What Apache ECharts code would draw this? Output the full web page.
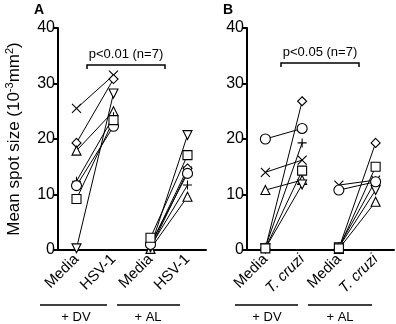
<!DOCTYPE html>
<html>
<head>
<meta charset="utf-8">
<script src="https://cdn.jsdelivr.net/npm/echarts@6/dist/echarts.min.js"></script>
<style>
  html, body { margin: 0; padding: 0; background: #fff; }
  #chart { width: 396px; height: 324px; }
</style>
</head>
<body>
<div id="chart"></div>
<script>
// marker order: x, diamond, triangle, down-triangle, plus, circle, square
const shapes = ['cross', 'diamond', 'triangle', 'dtriangle', 'plus', 'circle', 'rect'];

const catsA = ['Media', 'HSV-1', 'Media', 'HSV-1'];
const catsB = ['Media', 'T. cruzi', 'Media', 'T. cruzi'];
const groupLabels = ['+ DV', '+ AL'];
const yTicks = [0, 10, 20, 30, 40];

// panel A
const aDvMedia = [25.5, 19.3, 17.9, 0.3, 12.4, 11.6, 9.2];
const aDvHsv   = [31.5, 30.8, 25.0, 28.2, 24.0, 22.3, 23.4];
const aAlMedia = [0.3, 0.8, 0.2, 0.5, 0.6, 1.0, 2.2];
const aAlHsv   = [14.2, 14.7, 9.6, 20.7, 11.7, 13.8, 17.1];

// panel B
const bDvMedia = [14.0, 0.3, 10.8, 0.3, 0.5, 20.0, 0.3];
const bDvTc    = [16.2, 26.8, 12.6, 11.8, 19.3, 21.9, 14.3];
const bAlMedia = [11.7, 0.3, 0.2, 0.5, 0.6, 10.8, 0.3];
const bAlTc    = [12.6, 19.3, 8.7, 10.8, 12.5, 12.3, 15.0];

const font = 'Liberation Sans, Arial, sans-serif';

function symbolFor(s) {
    if (s === 'cross') return { symbol: 'path://M0,0L10,10M10,0L0,10', rotate: 0 };
    if (s === 'plus') return { symbol: 'path://M5,0L5,10M0,5L10,5', rotate: 0 };
    if (s === 'dtriangle') return { symbol: 'triangle', rotate: 180 };
    return { symbol: s, rotate: 0 };
}

const series = [];
function addPairs(panel, media, treat, slot) {
    shapes.forEach((s, i) => {
        const data = ['-', '-', '-', '-'];
        data[slot] = media[i];
        data[slot + 1] = treat[i];
        const sym = symbolFor(s);
        series.push({
            type: 'line',
            xAxisIndex: panel,
            yAxisIndex: panel,
            data: data,
            symbol: sym.symbol,
            symbolRotate: sym.rotate,
            symbolSize: s === 'circle' ? 10 : 9,
            showAllSymbol: true,
            lineStyle: { color: '#000', width: 1 },
            itemStyle: { color: '#fff', borderColor: '#000', borderWidth: 1.1 },
            emphasis: { disabled: true },
            animation: false
        });
    });
}
addPairs(0, aDvMedia, aDvHsv, 0);
addPairs(0, aAlMedia, aAlHsv, 2);
addPairs(1, bDvMedia, bDvTc, 0);
addPairs(1, bAlMedia, bAlTc, 2);

function xAxis(idx, cats) {
    return {
        type: 'category',
        gridIndex: idx,
        data: cats,
        axisLine: { lineStyle: { color: '#000', width: 2 } },
        axisTick: { show: false },
        axisLabel: {
            rotate: 45,
            margin: 7,
            interval: 0,
            color: '#000',
            fontSize: 15,
            fontFamily: font,
            formatter: v => v === 'T. cruzi' ? '{i|T.} {i|cruzi}' : v,
            rich: { i: { fontStyle: 'italic', fontSize: 15, fontFamily: font, color: '#000' } }
        }
    };
}

function yAxis(idx, withName) {
    const ax = {
        type: 'value',
        gridIndex: idx,
        min: yTicks[0],
        max: yTicks[yTicks.length - 1],
        interval: 10,
        axisLine: { show: true, lineStyle: { color: '#000', width: 2 } },
        axisTick: { show: true, length: 4, lineStyle: { color: '#000', width: 2 } },
        axisLabel: { color: '#000', fontSize: 16, fontFamily: font, margin: 3 },
        splitLine: { show: false }
    };
    if (withName) {
        ax.name = '{a|Mean spot size (10}{s|-3}{a|mm}{s|2}{a|)}';
        ax.nameLocation = 'middle';
        ax.nameRotate = 90;
        ax.nameGap = 35;
        ax.nameTextStyle = {
            rich: {
                a: { fontSize: 17, fontFamily: font, color: '#000', verticalAlign: 'bottom', lineHeight: 19 },
                s: { fontSize: 11, fontFamily: font, color: '#000', verticalAlign: 'top', lineHeight: 19 }
            }
        };
    }
    return ax;
}

function bracket(x1, x2, y, label) {
    return [
        {
            type: 'polyline',
            shape: { points: [[x1, y + 4], [x1, y], [x2, y], [x2, y + 4]] },
            style: { stroke: '#000', lineWidth: 1.5, fill: null }
        },
        {
            type: 'text',
            x: (x1 + x2) / 2, y: y - 4,
            style: { text: label, fontSize: 13, fontFamily: font, fill: '#000', align: 'center', verticalAlign: 'bottom' }
        }
    ];
}

function group(x1, x2, tx, label) {
    return [
        {
            type: 'line',
            shape: { x1: x1, y1: 305, x2: x2, y2: 305 },
            style: { stroke: '#000', lineWidth: 1.5 }
        },
        {
            type: 'text',
            x: tx, y: 311,
            style: { text: label, fontSize: 13, fontFamily: font, fill: '#000', align: 'center', verticalAlign: 'top' }
        }
    ];
}

const chart = echarts.init(document.getElementById('chart'), null, { renderer: 'canvas' });
chart.setOption({
    backgroundColor: '#fff',
    animation: false,
    grid: [
        { left: 58, top: 28, width: 148, height: 222 },
        { left: 247, top: 28, width: 147, height: 222 }
    ],
    xAxis: [xAxis(0, catsA), xAxis(1, catsB)],
    yAxis: [yAxis(0, true), yAxis(1, false)],
    series: series,
    graphic: [
        { type: 'text', x: 34, y: 3, style: { text: 'A', fontSize: 14, fontWeight: 'bold', fontFamily: font, fill: '#000' } },
        { type: 'text', x: 223, y: 3, style: { text: 'B', fontSize: 14, fontWeight: 'bold', fontFamily: font, fill: '#000' } },
        ...bracket(87, 165, 65, 'p<0.01 (n=7)'),
        ...bracket(281, 359, 63, 'p<0.05 (n=7)'),
        ...group(40, 107, 76, groupLabels[0]),
        ...group(117, 180, 148, groupLabels[1]),
        ...group(235, 298, 267, groupLabels[0]),
        ...group(308, 372, 340, groupLabels[1])
    ]
});
</script>
</body>
</html>
